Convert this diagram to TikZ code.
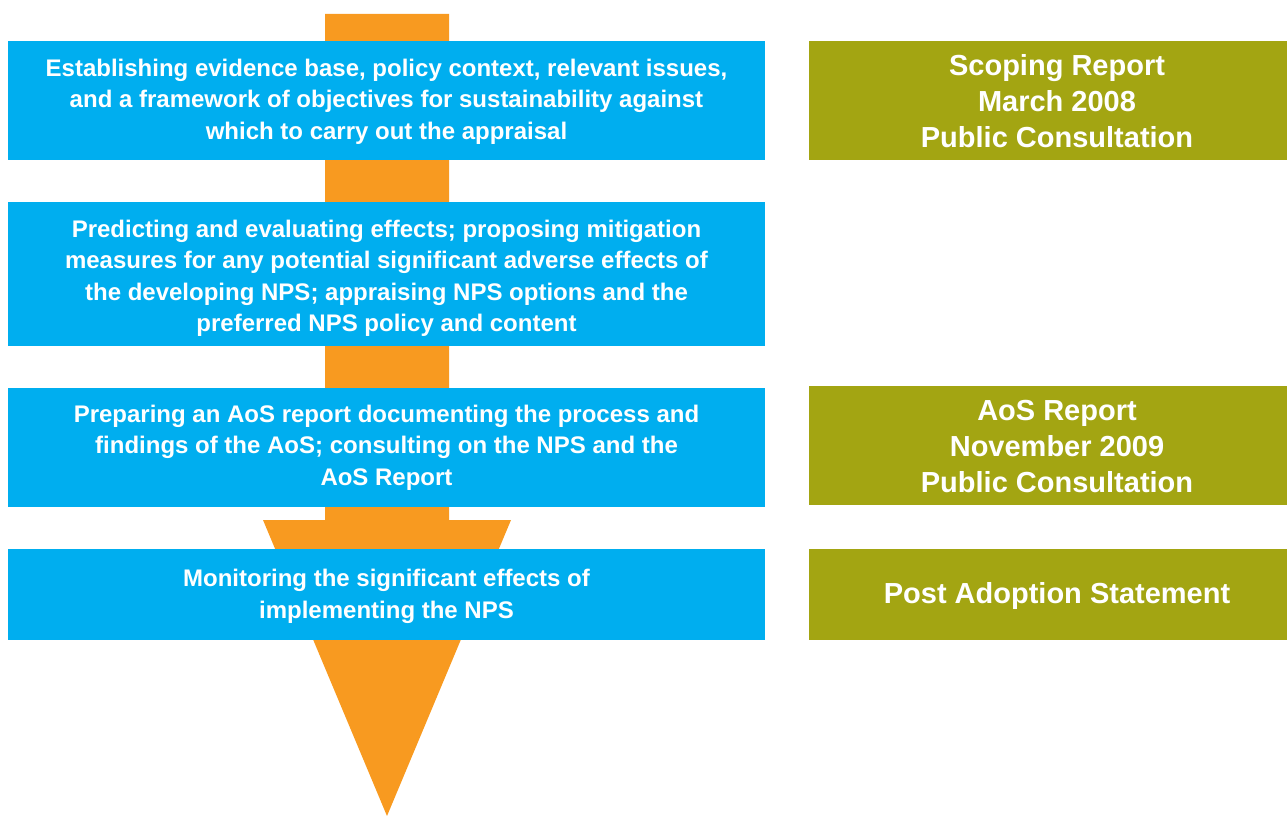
\documentclass[tikz,border=0pt]{standalone}
\usepackage{fontspec}
\setmainfont{Liberation Sans}
\definecolor{stepblue}{RGB}{0,174,239}
\definecolor{olivebox}{RGB}{163,165,18}
\definecolor{arroworange}{RGB}{248,154,32}
\tikzset{
  lbox/.style={fill=stepblue, draw=none, minimum width=757pt, inner sep=0pt},
  ltext/.style={align=center, text=white, inner sep=0pt, font=\bfseries\fontsize{24}{31.5}\selectfont},
  rbox/.style={fill=olivebox, draw=none, minimum width=478pt, inner sep=0pt},
  rtext/.style={align=center, text=white, inner sep=0pt, font=\bfseries\fontsize{29}{36}\selectfont},
}
\begin{document}
\begin{tikzpicture}[x=1pt,y=-1pt]
\useasboundingbox (0,0) rectangle (1287,816);
% big arrow
\fill[arroworange] (325,14) -- (449,14) -- (449,520) -- (511,520) -- (387,816) -- (263,520) -- (325,520) -- cycle;
% left boxes
\node[lbox, minimum height=119pt] (b1) at (386.5,100.5) {};
\node[ltext] (b1t) at ([yshift=-1pt]b1.center) {Establishing evidence base, policy context, relevant issues,\\and a framework of objectives for sustainability against\\which to carry out the appraisal};
\node[lbox, minimum height=144pt] (b2) at (386.5,274) {};
\node[ltext] (b2t) at ([yshift=-4.5pt]b2.center) {Predicting and evaluating effects; proposing mitigation\\measures for any potential significant adverse effects of\\the developing NPS; appraising NPS options and the\\preferred NPS policy and content};
\node[lbox, minimum height=119pt] (b3) at (386.5,447.5) {};
\node[ltext] (b3t) at (b3.center) {Preparing an AoS report documenting the process and\\findings of the AoS; consulting on the NPS and the\\AoS Report};
\node[lbox, minimum height=91pt] (b4) at (386.5,594.5) {};
\node[ltext] (b4t) at ([yshift=-2pt]b4.center) {Monitoring the significant effects of\\implementing the NPS};
% right boxes
\node[rbox, minimum height=119pt] (r1) at (1048,100.5) {};
\node[rtext] (r1t) at (1057,101.5) {Scoping Report\\March 2008\\Public Consultation};
\node[rbox, minimum height=119pt] (r2) at (1048,445.5) {};
\node[rtext] (r2t) at (1057,446.5) {AoS Report\\November 2009\\Public Consultation};
\node[rbox, minimum height=91pt] (r3) at (1048,594.5) {};
\node[rtext] (r3t) at (1057,595.5) {Post Adoption Statement};
\end{tikzpicture}
\end{document}
